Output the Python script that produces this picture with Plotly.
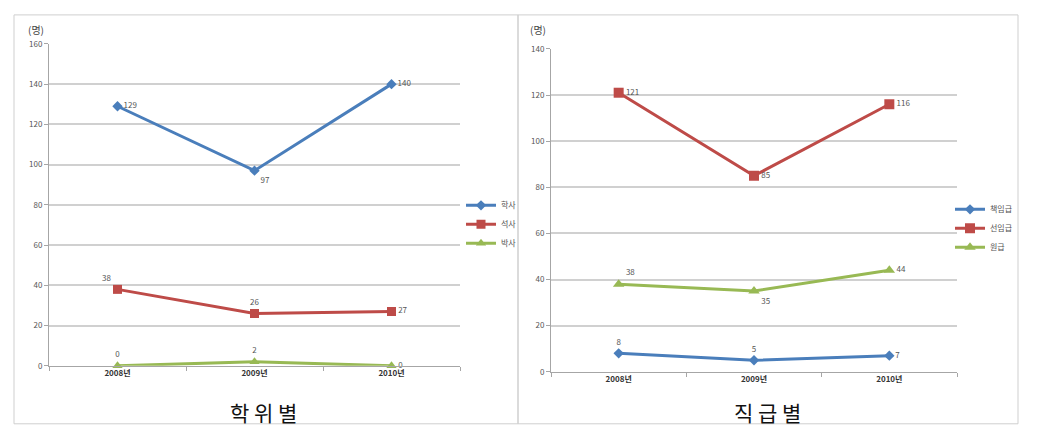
import plotly.graph_objects as go

years = ["2008년", "2009년", "2010년"]

# 학위별
deg_names = ["학사", "석사", "박사"]
bachelor = [129, 97, 140]
master = [38, 26, 27]
doctor = [0, 2, 0]

# 직급별
rank_names = ["책임급", "선임급", "원급"]
principal = [8, 5, 7]
senior = [121, 85, 116]
junior = [38, 35, 44]

blue = "#4a7ebb"
red = "#be4b48"
green = "#98b954"

W, H = 1038, 436

def px_x(v):
    return v / W

def px_y(v):
    # vertical pixel (from top) -> paper fraction, with a small calibration
    return 1 - ((v - 6.1) / 0.975) / H

fig = go.Figure()

def add(xs, ys, name, color, symbol, pos, xaxis, yaxis, legend, msize):
    fig.add_trace(go.Scatter(
        x=xs, y=ys, name=name, mode="lines+markers+text",
        line=dict(color=color, width=3),
        marker=dict(symbol=symbol, size=msize, color=color),
        text=[str(v) for v in ys], textposition=pos,
        textfont=dict(size=8, color="#555555", family="Noto Sans CJK KR"),
        xaxis=xaxis, yaxis=yaxis, legend=legend, cliponaxis=False,
    ))

add(years, bachelor, deg_names[0], blue, "diamond", ["middle right", "bottom right", "middle right"], "x", "y", "legend", 8)
add(years, master, deg_names[1], red, "square", ["top left", "top center", "middle right"], "x", "y", "legend", 9)
add(years, doctor, deg_names[2], green, "triangle-up", ["top center", "top center", "middle right"], "x", "y", "legend", 9)

add(years, principal, rank_names[0], blue, "diamond", ["top center", "top center", "middle right"], "x2", "y2", "legend2", 8)
add(years, senior, rank_names[1], red, "square", ["middle right", "middle right", "middle right"], "x2", "y2", "legend2", 10)
add(years, junior, rank_names[2], green, "triangle-up", ["top right", "bottom right", "middle right"], "x2", "y2", "legend2", 10)

xcommon = dict(type="category", range=[-0.5, 2.5], showgrid=False, showline=True,
               linecolor="#a6a6a6", linewidth=1, ticks="outside", tickson="boundaries",
               ticklen=4, tickcolor="#a6a6a6",
               tickfont=dict(size=8, color="#333333", family="Noto Sans CJK KR", weight="bold"),
               zeroline=False, fixedrange=True)
ycommon = dict(showgrid=True, gridcolor="#d0d0d0", gridwidth=1.5, showline=True,
               linecolor="#a6a6a6", linewidth=1, ticks="outside", ticklen=4,
               tickcolor="#a6a6a6", dtick=20, zeroline=False,
               tickfont=dict(size=8, color="#555555", family="Noto Sans CJK KR"))

fig.update_layout(
    width=W, height=H,
    margin=dict(l=0, r=0, t=0, b=0),
    paper_bgcolor="white", plot_bgcolor="white",
    font=dict(family="Noto Sans CJK KR"),
    xaxis=dict(domain=[px_x(49), px_x(460)], anchor="y", **xcommon),
    yaxis=dict(domain=[px_y(366), px_y(44)], anchor="x", range=[0, 160], **ycommon),
    xaxis2=dict(domain=[px_x(551), px_x(957)], anchor="y2", **xcommon),
    yaxis2=dict(domain=[px_y(372), px_y(49)], anchor="x2", range=[0, 140], **ycommon),
    legend=dict(x=px_x(461), y=px_y(191), xanchor="left", yanchor="top",
                font=dict(size=8, color="#555555"), itemwidth=30, tracegroupgap=0,
                bgcolor="rgba(0,0,0,0)"),
    legend2=dict(x=px_x(950), y=px_y(195), xanchor="left", yanchor="top",
                 font=dict(size=8, color="#555555"), itemwidth=30, tracegroupgap=0,
                 bgcolor="rgba(0,0,0,0)"),
    shapes=[
        dict(type="rect", xref="paper", yref="paper", x0=px_x(14), x1=px_x(518),
             y0=px_y(424), y1=px_y(15), line=dict(color="#cfcfcf", width=1)),
        dict(type="rect", xref="paper", yref="paper", x0=px_x(518), x1=px_x(1018),
             y0=px_y(424), y1=px_y(15), line=dict(color="#cfcfcf", width=1)),
    ],
    annotations=[
        dict(text="(명)", x=px_x(36), y=px_y(30), xref="paper", yref="paper",
             xanchor="center", yanchor="middle",
             showarrow=False, font=dict(size=10, color="#444444")),
        dict(text="(명)", x=px_x(538), y=px_y(30), xref="paper", yref="paper",
             xanchor="center", yanchor="middle",
             showarrow=False, font=dict(size=10, color="#444444")),
        dict(text="학 위 별", x=px_x(263), y=px_y(412), xref="paper", yref="paper",
             xanchor="center", yanchor="middle",
             showarrow=False, font=dict(size=21, color="#111111")),
        dict(text="직 급 별", x=px_x(767), y=px_y(412), xref="paper", yref="paper",
             xanchor="center", yanchor="middle",
             showarrow=False, font=dict(size=21, color="#111111")),
    ],
)

post = (
    "var d=document.getElementById('{plot_id}');"
    "d.style.position='fixed';d.style.top='0px';d.style.left='0px';"
    "document.documentElement.style.margin='0';document.body.style.margin='0';"
    "document.documentElement.style.overflow='hidden';document.body.style.overflow='hidden';"
)
fig.write_html("out.html", post_script=post, config={"displayModeBar": False})
